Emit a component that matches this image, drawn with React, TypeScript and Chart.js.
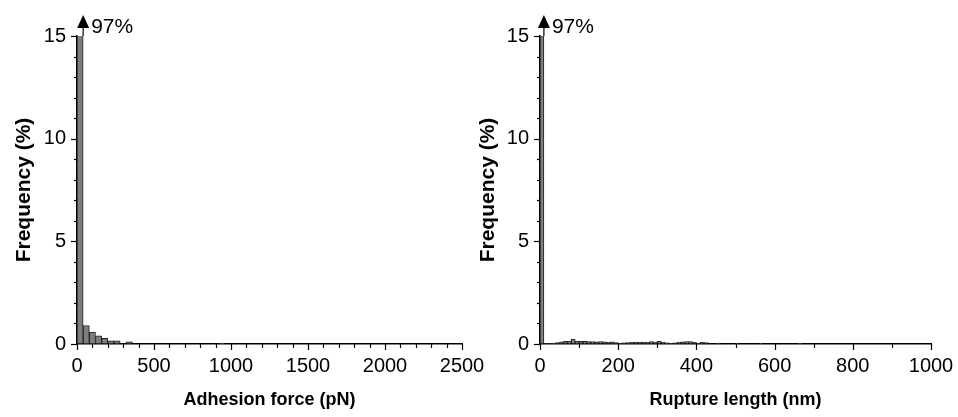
import React, { useEffect, useRef } from 'react';
import { Chart, registerables } from 'chart.js';
Chart.register(...registerables);

// ---------- data ----------
const forceBinWidth = 40; // pN
const forceFreq = [97, 0.9, 0.58, 0.4, 0.28, 0.15, 0.15, 0, 0.1, 0, 0, 0, 0, 0, 0, 0, 0, 0, 0, 0, 0, 0, 0, 0.05];
const forceXTicks = [0, 500, 1000, 1500, 2000, 2500];

const lengthBinWidth = 10; // nm
const lengthFreq = [
  97, 0.02, 0.02, 0.04, 0.07, 0.1, 0.13, 0.14, 0.24, 0.14,
  0.13, 0.13, 0.12, 0.12, 0.1, 0.12, 0.1, 0.08, 0.1, 0.07,
  0.05, 0.06, 0.07, 0.08, 0.09, 0.08, 0.09, 0.08, 0.12, 0.09,
  0.13, 0.09, 0.06, 0.05, 0.06, 0.08, 0.1, 0.12, 0.12, 0.08,
  0.05, 0.08, 0.07, 0, 0, 0.05, 0, 0, 0, 0,
  0.05, 0, 0, 0, 0, 0, 0.05, 0, 0, 0,
  0, 0, 0, 0, 0, 0, 0.05,
];
const lengthXTicks = [0, 200, 400, 600, 800, 1000];

const yTicks = [0, 5, 10, 15];
const topLabel = '97%';

const FONT = '"Liberation Sans", Arial, Helvetica, sans-serif';

const decorPlugin = {
  id: 'decor',
  afterDraw(chart: any, _args: any, opts: any) {
    const { ctx, chartArea } = chart;
    const x = chart.scales.x;
    const y = chart.scales.y;
    ctx.save();
    ctx.strokeStyle = '#000';
    ctx.lineWidth = 1.2;
    // y ticks
    for (let v = y.min; v <= y.max + 1e-9; v += opts.yMinor) {
      const py = Math.round(y.getPixelForValue(v)) + 0.5;
      const major = Math.abs(v / opts.yMajor - Math.round(v / opts.yMajor)) < 1e-6;
      const len = major ? 6 : 3;
      ctx.beginPath();
      ctx.moveTo(chartArea.left - len, py);
      ctx.lineTo(chartArea.left, py);
      ctx.stroke();
    }
    // x ticks
    for (let v = x.min; v <= x.max + 1e-9; v += opts.xMinor) {
      const px = Math.round(x.getPixelForValue(v)) + 0.5;
      const major = Math.abs(v / opts.xMajor - Math.round(v / opts.xMajor)) < 1e-6;
      const len = major ? 6 : 4;
      ctx.beginPath();
      ctx.moveTo(px, chartArea.bottom);
      ctx.lineTo(px, chartArea.bottom + len);
      ctx.stroke();
    }
    // arrow for clipped first bar
    const ax = x.getPixelForValue(opts.arrowAt);
    const top = chartArea.top;
    ctx.fillStyle = '#000';
    ctx.beginPath();
    ctx.moveTo(ax, top - 21);
    ctx.lineTo(ax - 6, top - 8);
    ctx.lineTo(ax + 6, top - 8);
    ctx.closePath();
    ctx.fill();
    ctx.beginPath();
    ctx.moveTo(ax, top - 9);
    ctx.lineTo(ax, top);
    ctx.stroke();
    ctx.font = '21px ' + FONT;
    ctx.textBaseline = 'middle';
    ctx.textAlign = 'left';
    ctx.fillText(opts.label, ax + 8, top - 9);
    ctx.restore();
  },
};

type HistProps = {
  canvasLeft: number;
  canvasWidth: number;
  axisWidth: number;
  padRight: number;
  yTitlePad: number;
  freq: number[];
  binWidth: number;
  xMax: number;
  xStep: number;
  xMinor: number;
  xTicks: number[];
  xTitle: string;
};

function Hist(p: HistProps) {
  const ref = useRef<HTMLCanvasElement>(null);
  useEffect(() => {
    const points = p.freq.map((v, i) => ({ x: i * p.binWidth + p.binWidth / 2, y: v }));
    const chart = new Chart(ref.current!, {
      type: 'bar',
      data: {
        datasets: [
          {
            data: points as any,
            backgroundColor: '#7d7d7d',
            borderColor: '#222',
            borderWidth: 1,
            barPercentage: 1,
            categoryPercentage: 1,
          },
        ],
      },
      plugins: [decorPlugin],
      options: {
        responsive: false,
        animation: false,
        events: [],
        layout: { padding: { left: 0, right: p.padRight, top: 36, bottom: 0 } },
        plugins: {
          legend: { display: false },
          tooltip: { enabled: false },
          decor: {
            yMinor: 1,
            yMajor: 5,
            xMinor: p.xMinor,
            xMajor: p.xStep,
            arrowAt: p.binWidth,
            label: topLabel,
          },
        } as any,
        scales: {
          x: {
            type: 'linear',
            min: 0,
            max: p.xMax,
            offset: false,
            afterFit: (s: any) => {
              s.height = 73;
            },
            afterBuildTicks: (s: any) => {
              s.ticks = p.xTicks.map((v) => ({ value: v }));
            },
            grid: { display: true, drawOnChartArea: false, drawTicks: true, tickLength: 6, color: 'rgba(0,0,0,0)' },
            border: { display: true, color: '#000', width: 1.5 },
            ticks: {
              color: '#000',
              font: { size: 20, family: FONT },
              padding: 4,
              maxRotation: 0,
              autoSkip: false,
              callback: (v: any) => String(v),
            },
            title: {
              display: true,
              text: p.xTitle,
              color: '#000',
              font: { size: 18, weight: 'bold', family: FONT },
              padding: { top: 0, bottom: 6 },
            },
          },
          y: {
            type: 'linear',
            min: 0,
            max: 15,
            afterFit: (s: any) => {
              s.width = p.axisWidth;
            },
            afterBuildTicks: (s: any) => {
              s.ticks = yTicks.map((v) => ({ value: v }));
            },
            grid: { display: true, drawOnChartArea: false, drawTicks: true, tickLength: 6, color: 'rgba(0,0,0,0)' },
            border: { display: true, color: '#000', width: 1.5 },
            ticks: {
              color: '#000',
              font: { size: 20, family: FONT },
              padding: 5,
              callback: (v: any) => String(v),
            },
            title: {
              display: true,
              text: 'Frequency (%)',
              color: '#000',
              font: { size: 21, weight: 'bold', family: FONT },
              padding: { top: p.yTitlePad, bottom: 0 },
            },
          },
        },
      },
    });
    return () => chart.destroy();
  }, []);
  return (
    <canvas
      ref={ref}
      width={p.canvasWidth}
      height={417}
      style={{ position: 'absolute', left: p.canvasLeft, top: 0, width: p.canvasWidth, height: 417 }}
    />
  );
}

export default function App() {
  return (
    <div style={{ position: 'fixed', left: 0, top: 0, width: 958, height: 417, background: '#fff', overflow: 'hidden' }}>
      <Hist
        canvasLeft={0}
        canvasWidth={500}
        axisWidth={77}
        padRight={38}
        yTitlePad={11.5}
        freq={forceFreq}
        binWidth={forceBinWidth}
        xMax={2500}
        xStep={500}
        xMinor={100}
        xTicks={forceXTicks}
        xTitle="Adhesion force (pN)"
      />
      <Hist
        canvasLeft={470}
        canvasWidth={488}
        axisWidth={70}
        padRight={27}
        yTitlePad={5.5}
        freq={lengthFreq}
        binWidth={lengthBinWidth}
        xMax={1000}
        xStep={200}
        xMinor={100}
        xTicks={lengthXTicks}
        xTitle="Rupture length (nm)"
      />
    </div>
  );
}
